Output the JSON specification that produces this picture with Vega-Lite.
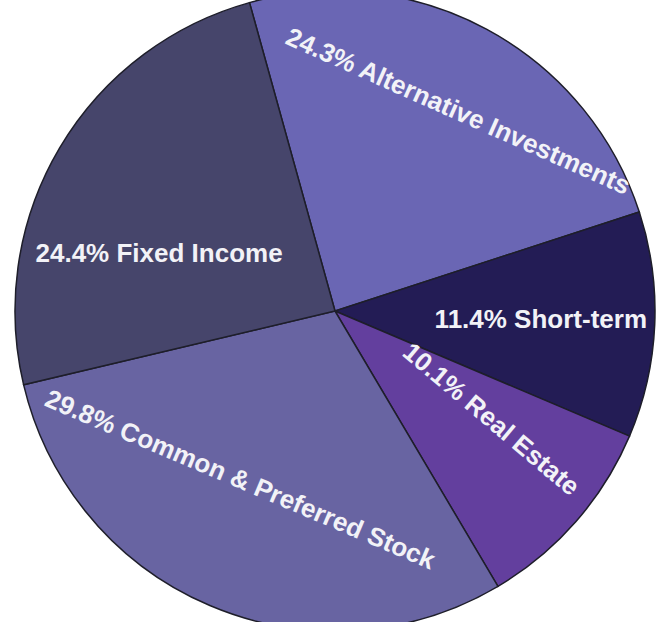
{
  "$schema": "https://vega.github.io/schema/vega-lite/v6.json",
  "width": 670,
  "height": 622,
  "autosize": {"type": "fit", "contains": "padding"},
  "padding": 0,
  "background": "white",
  "view": {"stroke": null},
  "data": {
    "values": [
      {"category": "Alternative Investments", "pct": 24.3, "label": "24.3% Alternative Investments"},
      {"category": "Short-term", "pct": 11.4, "label": "11.4% Short-term"},
      {"category": "Real Estate", "pct": 10.1, "label": "10.1% Real Estate"},
      {"category": "Common & Preferred Stock", "pct": 29.8, "label": "29.8% Common & Preferred Stock"},
      {"category": "Fixed Income", "pct": 24.4, "label": "24.4% Fixed Income"}
    ]
  },
  "transform": [{"window": [{"op": "row_number", "as": "idx"}]}],
  "encoding": {
    "theta": {"field": "pct", "type": "quantitative", "stack": true, "scale": {"range": [-0.2705, 6.0127]}},
    "order": {"field": "idx", "type": "quantitative"}
  },
  "layer": [
    {
      "mark": {"type": "arc", "outerRadius": 320, "stroke": "#1e1e2a", "strokeWidth": 1.5},
      "encoding": {
        "color": {
          "field": "category", "type": "nominal", "legend": null,
          "scale": {
            "domain": ["Alternative Investments", "Short-term", "Real Estate", "Common & Preferred Stock", "Fixed Income"],
            "range": ["#6a66b4", "#231c55", "#633f9e", "#6864a2", "#46456b"]
          }
        }
      }
    },
    {
      "mark": {"type": "text", "radius": 234, "thetaOffset": 0.06, "angle": 24, "font": "Liberation Sans", "fontWeight": "bold", "fontSize": 26, "fill": "#f2f2f7", "align": "center", "baseline": "middle"},
      "encoding": {"text": {"condition": {"test": "datum.category === 'Alternative Investments'", "field": "label"}, "value": ""}}
    },
    {
      "mark": {"type": "text", "radius": 206, "angle": 0, "font": "Liberation Sans", "fontWeight": "bold", "fontSize": 26, "fill": "#f2f2f7", "align": "center", "baseline": "middle"},
      "encoding": {"text": {"condition": {"test": "datum.category === 'Short-term'", "field": "label"}, "value": ""}}
    },
    {
      "mark": {"type": "text", "radius": 190, "thetaOffset": -0.11, "angle": 40, "font": "Liberation Sans", "fontWeight": "bold", "fontSize": 26, "fill": "#f2f2f7", "align": "center", "baseline": "middle"},
      "encoding": {"text": {"condition": {"test": "datum.category === 'Real Estate'", "field": "label"}, "value": ""}}
    },
    {
      "mark": {"type": "text", "radius": 194, "thetaOffset": 0.11, "angle": 23, "font": "Liberation Sans", "fontWeight": "bold", "fontSize": 26, "fill": "#f2f2f7", "align": "center", "baseline": "middle"},
      "encoding": {"text": {"condition": {"test": "datum.category === 'Common & Preferred Stock'", "field": "label"}, "value": ""}}
    },
    {
      "mark": {"type": "text", "radius": 185, "thetaOffset": -0.22, "angle": 0, "font": "Liberation Sans", "fontWeight": "bold", "fontSize": 26, "fill": "#f2f2f7", "align": "center", "baseline": "middle"},
      "encoding": {"text": {"condition": {"test": "datum.category === 'Fixed Income'", "field": "label"}, "value": ""}}
    }
  ]
}
